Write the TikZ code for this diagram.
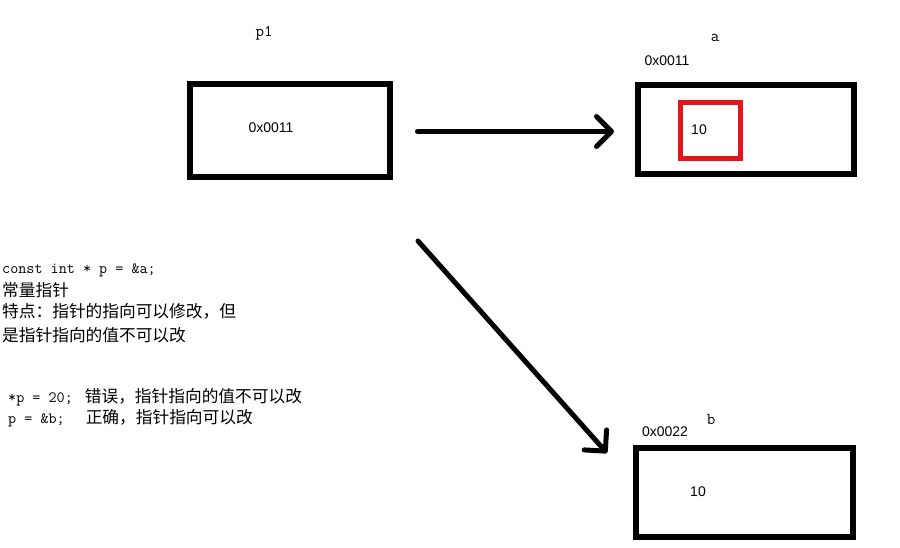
\documentclass[tikz,border=0pt]{standalone}
\usepackage{fontspec}
\newfontfamily\cjk{Noto Sans CJK SC}
\newfontfamily\numfont{Liberation Sans}
\usetikzlibrary{arrows.meta,positioning}
\definecolor{cellred}{RGB}{232,20,28}

\tikzset{
    membox/.style={draw, line width=6pt, minimum width=216pt, minimum height=89pt, inner sep=0pt},
    valbox/.style={draw=cellred, line width=5pt, minimum width=60pt, minimum height=56pt, inner sep=0pt},
    varname/.style={font=\ttfamily\fontsize{16.5}{18}\selectfont, inner sep=0pt},
    addr/.style={font=\numfont\fontsize{14}{16}\selectfont, inner sep=0pt},
    note/.style={anchor=base west, inner sep=0pt, font=\fontsize{16.7}{19}\selectfont},
    pointer/.style={line width=5pt, line cap=round, -{Straight Barb[length=15pt,width=30pt,round]}}
}

\begin{document}
\begin{tikzpicture}[x=1pt,y=1pt,yscale=-1]

\useasboundingbox (0,0) rectangle (900,548);

% Memory cells
\node[membox, minimum width=200pt, minimum height=93pt] (p1box) at (290,130.5) {};
\node[membox] (abox) at (746,129.5) {};
\node[membox, minimum width=217pt] (bbox) at (744.5,492.5) {};
\node[valbox] (aval) at (710.5,131) {};

% Names and addresses
\node[varname] (p1name) at (264,33) {p1};
\node[addr] (p1addr) at (271,128) {0x0011};
\node[varname] (aname) at (715,38) {a};
\node[addr] (aaddr) at (667,61) {0x0011};
\node[addr] (anum) at (699,130) {10};
\node[varname] (bname) at (711,420) {b};
\node[addr] (baddr) at (665,432) {0x0022};
\node[addr] (bnum) at (698,492) {10};

% Pointer arrows
\draw[pointer] ([xshift=24.5pt,yshift=1pt]p1box.east) -- ([xshift=-21pt,yshift=2pt]abox.west);
\draw[pointer] ([xshift=25pt,yshift=61pt]p1box.south east) -- ([xshift=-26pt,yshift=8pt]bbox.north west);

% Notes on the left
\node[note] (decl) at (2,273) {\ttfamily\fontsize{15.7}{18}\selectfont const int * p = \&a;};
\node[note] (kind) at (2,296) {\cjk 常量指针};
\node[note] (feat1) at (2,317) {\cjk 特点：指针的指向可以修改，但};
\node[note] (feat2) at (2,341) {\cjk 是指针指向的值不可以改};
\node[note] (bad) at (8,402) {{\ttfamily\fontsize{15.7}{18}\selectfont *p = 20;}\hspace{12pt}{\cjk 错误，指针指向的值不可以改}};
\node[note] (good) at (8,423) {{\ttfamily\fontsize{15.7}{18}\selectfont p = \&b;}\hspace{21pt}{\cjk 正确，指针指向可以改}};

\end{tikzpicture}
\end{document}
